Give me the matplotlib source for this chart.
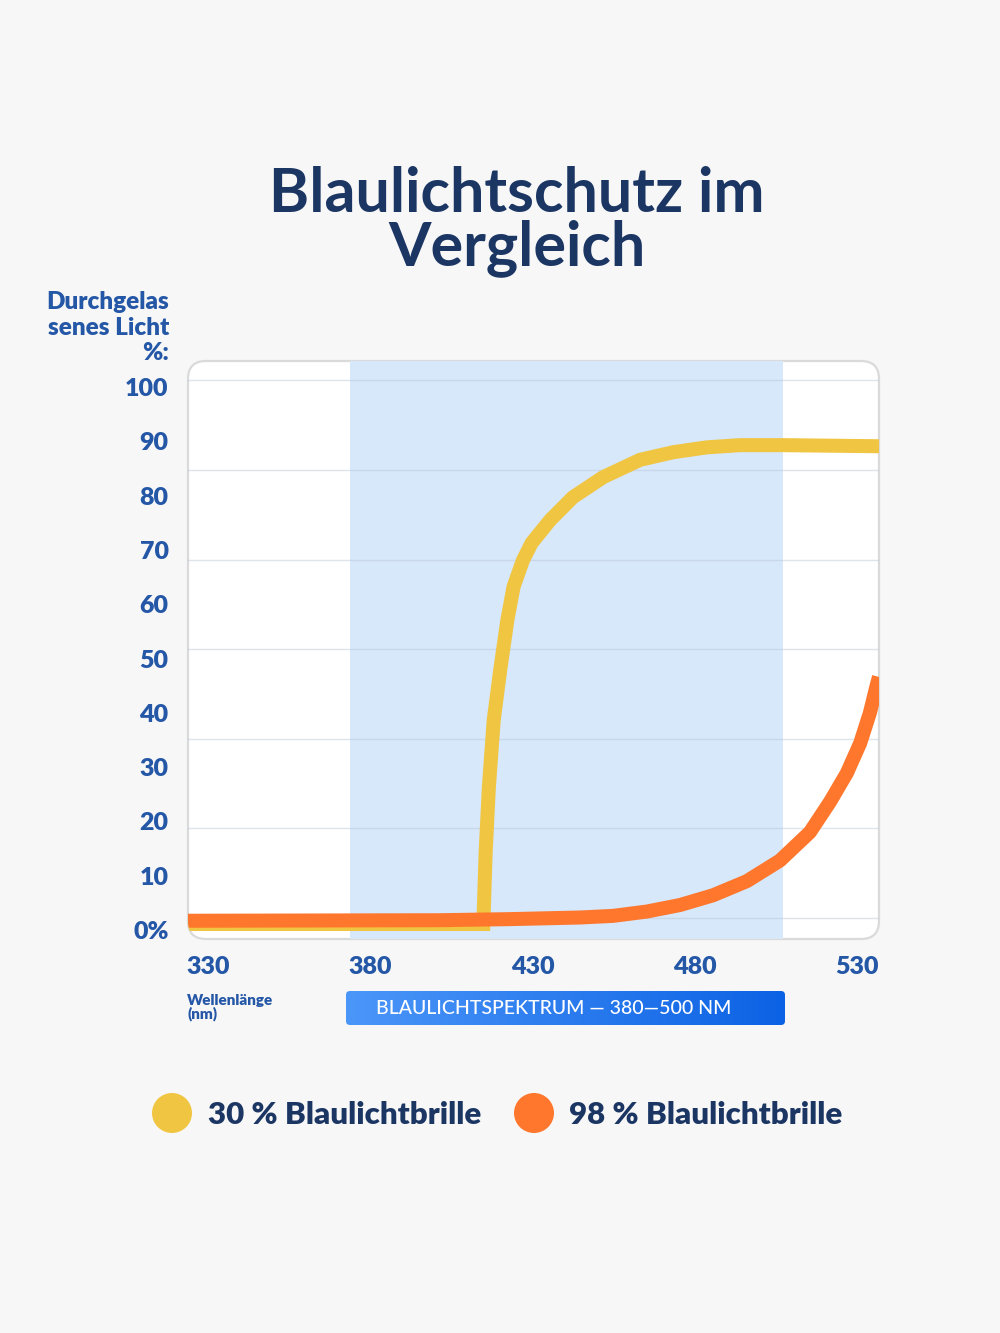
import numpy as np
import matplotlib
matplotlib.use("Agg")
import matplotlib.pyplot as plt
from matplotlib.patches import FancyBboxPatch, Circle
from matplotlib.transforms import IdentityTransform
from matplotlib.colors import LinearSegmentedColormap

plt.rcParams['font.family'] = ['Lato', 'DejaVu Sans']

# ---------- data ----------
# 30 % Blaulichtbrille
wl_30 = [323.8, 414.8, 415.5, 416.5, 418.0, 420.0, 422.2, 424.1, 427.0, 429.7, 435.4,
         442.4, 451.7, 463.1, 473.3, 483.7, 493.9, 507.1, 536.7]
tr_30 = [1.1, 1.1, 14.2, 26.3, 38.7, 47.9, 57.1, 63.2, 68.1, 71.3, 75.5,
         79.7, 83.4, 86.6, 88.0, 88.9, 89.3, 89.3, 89.1]
# 98 % Blaulichtbrille
wl_98 = [323.8, 401.5, 423.0, 444.6, 454.8, 465.2, 475.4, 485.6, 496.0, 506.2,
         515.4, 521.6, 526.8, 530.9, 533.9, 536.0, 536.7]
tr_98 = [1.7, 1.8, 2.0, 2.3, 2.6, 3.4, 4.6, 6.4, 9.0, 12.8,
         18.0, 23.6, 28.9, 34.4, 40.0, 45.1, 46.6]

x_ticks = [330, 380, 430, 480, 530]
y_ticks = [0, 10, 20, 30, 40, 50, 60, 70, 80, 90, 100]
y_tick_labels = ['0%', '10', '20', '30', '40', '50', '60', '70', '80', '90', '100']
grid_y = [2.2, 18.7, 35.2, 51.7, 68.2, 84.8, 101.3]
band = (373.7, 507.1)

# ---------- colours ----------
bg = '#f7f7f7'
navy = '#1c3664'
blue = '#2557a7'
yellow = '#f0c541'
orange = '#fe772d'
band_col = '#d7e8fb'

W, H = 1000, 1333
def fy(y):
    return 1 - y / H

fig = plt.figure(figsize=(10, 13.33), dpi=100, facecolor=bg)

# plot area
ax = fig.add_axes([188 / W, fy(939), 691 / W, 578 / H])
ax.set_facecolor('none')
ax.set_xlim(323.8, 536.7)
ax.set_ylim(-1.66, 104.8)
for s in ax.spines.values():
    s.set_visible(False)

frame = FancyBboxPatch((188, H - 939), 691, 578, boxstyle='round,pad=0,rounding_size=18',
                       transform=IdentityTransform(), facecolor='white', edgecolor='#dadada',
                       linewidth=1.6, zorder=0, clip_on=False)
ax.add_patch(frame)

sp = ax.axvspan(band[0], band[1], color=band_col, lw=0, zorder=1)
sp.set_clip_path(frame)
for g in grid_y:
    gl = ax.axhline(g, color='#b8c4d2', lw=1, alpha=0.45, zorder=1.5)
    gl.set_clip_path(frame)

l1, = ax.plot(wl_30, tr_30, color=yellow, lw=10.1, solid_joinstyle='miter',
              solid_capstyle='butt', zorder=3)
l2, = ax.plot(wl_98, tr_98, color=orange, lw=10.1, solid_joinstyle='round',
              solid_capstyle='butt', zorder=4)
l1.set_clip_path(frame)
l2.set_clip_path(frame)

ax.set_xticks(x_ticks)
ax.set_xticklabels([str(v) for v in x_ticks])
ax.set_yticks(y_ticks)
ax.set_yticklabels(y_tick_labels)
ax.tick_params(axis='both', length=0, colors=blue, labelsize=18)
ax.tick_params(axis='y', pad=14)
ax.tick_params(axis='x', pad=12)
for t in ax.get_xticklabels() + ax.get_yticklabels():
    t.set_fontweight('heavy')
    t.set_color(blue)

# title
fig.text(517 / W, fy(212), 'Blaulichtschutz im', ha='center', va='baseline',
         fontsize=44, fontweight='bold', color=navy)
fig.text(517 / W, fy(265), 'Vergleich', ha='center', va='baseline',
         fontsize=44, fontweight='bold', color=navy)

# y axis label
for txt, yb in [('Durchgelas', 309), ('senes Licht', 335), ('%:', 360)]:
    fig.text(169 / W, fy(yb), txt, ha='right', va='baseline', fontsize=17.5,
             fontweight='heavy', color=blue)

# x axis label
fig.text(187 / W, fy(994), 'Wellenlänge\n(nm)', ha='left', va='top', fontsize=11,
         fontweight='heavy', color=blue, linespacing=0.95)

# spectrum box with gradient
ax2 = fig.add_axes([346 / W, fy(1025), 439 / W, 34 / H])
ax2.axis('off')
cmap = LinearSegmentedColormap.from_list('spec', ['#4b96f9', '#0c62e4'])
im = ax2.imshow(np.linspace(0, 1, 256)[None, :], cmap=cmap, aspect='auto', extent=[0, 1, 0, 1])
box = FancyBboxPatch((346, H - 1025), 439, 34, boxstyle='round,pad=0,rounding_size=4',
                     transform=IdentityTransform())
im.set_clip_path(box)
ax2.text(30 / 439, 0.5, 'BLAULICHTSPEKTRUM — 380—500 NM', transform=ax2.transAxes,
         ha='left', va='center', fontsize=14, fontweight='medium', color='white')

# legend
for cx, col, tx, label in [(172, yellow, 208, '30 % Blaulichtbrille'),
                           (534, orange, 569, '98 % Blaulichtbrille')]:
    fig.add_artist(Circle((cx, H - 1113), 20, transform=IdentityTransform(),
                          facecolor=col, edgecolor='none'))
    fig.text(tx / W, fy(1113), label, ha='left', va='center_baseline', fontsize=22.5,
             fontweight='heavy', color=navy)

fig.savefig('out.png', dpi=100, facecolor=bg)
